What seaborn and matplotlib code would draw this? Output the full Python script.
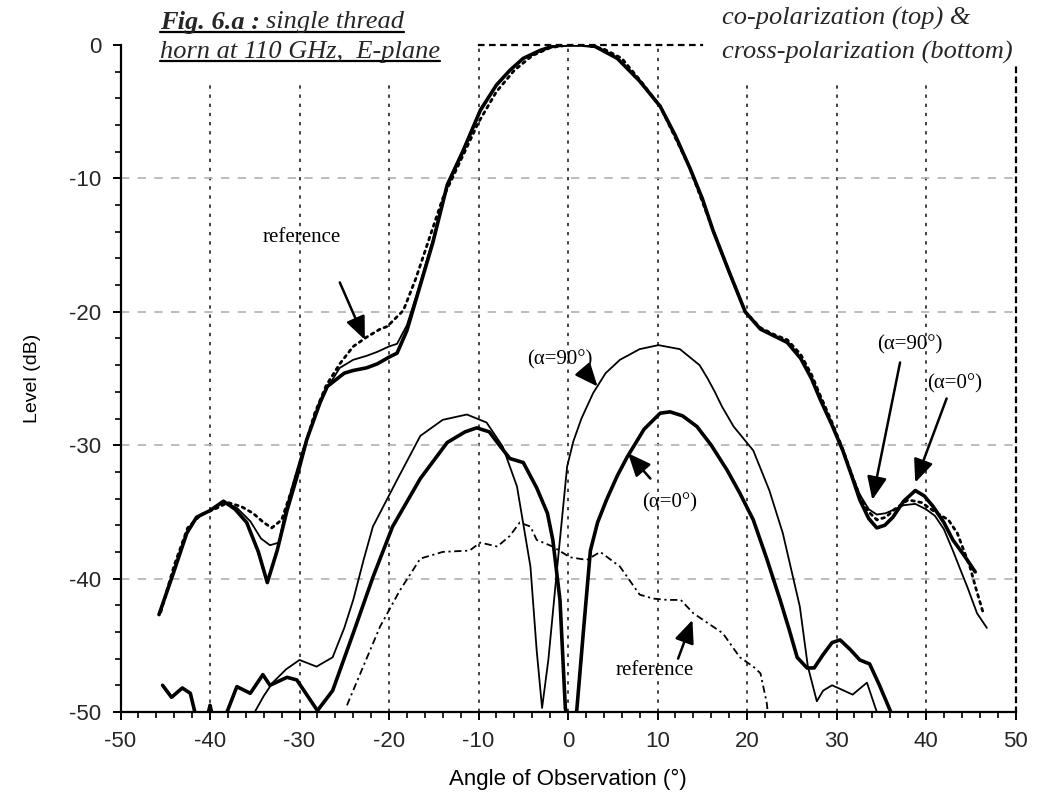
import numpy as np
import pandas as pd
import matplotlib
matplotlib.use("Agg")
import matplotlib.pyplot as plt
from matplotlib.lines import Line2D
from matplotlib.patches import Rectangle
from matplotlib.ticker import MultipleLocator
import seaborn as sns

# ---------------- data ----------------
# co-polarization, alpha = 0 deg (thick solid)
co_a0_x = [-45.7, -44.1, -42.6, -41.5, -40.0, -38.5, -37.2, -35.9, -34.6, -33.6, -32.5, -31.4, -30.3,
           -29.2, -27.7, -26.9, -25.0, -24.0, -22.5, -21.3, -20.0, -19.1, -18.0, -16.9, -15.1, -13.5,
           -11.7, -9.8, -8.0, -6.5, -5.0, -3.1, -1.5, 0.0, 1.5, 3.0, 5.5, 8.0, 10.3, 12.0, 13.6, 15.0,
           16.2, 18.0, 19.8, 21.5, 23.0, 24.5, 26.0, 27.2, 28.2, 29.5, 30.7, 31.7, 32.6, 33.6, 34.5,
           35.4, 36.3, 37.5, 38.8, 39.8, 40.8, 42.0, 43.0, 44.3, 45.5]
co_a0_y = [-42.7, -39.6, -36.6, -35.4, -34.9, -34.2, -34.8, -35.8, -38.0, -40.3, -37.9, -34.9, -32.4,
           -29.6, -26.8, -25.6, -24.6, -24.4, -24.2, -23.9, -23.4, -23.1, -21.4, -18.9, -14.8, -10.5,
           -7.9, -4.9, -3.0, -1.9, -1.0, -0.4, -0.05, 0.0, 0.0, -0.1, -1.0, -2.7, -4.6, -6.8, -9.2, -11.5,
           -13.9, -17.0, -20.0, -21.3, -21.8, -22.3, -23.5, -25.0, -26.6, -28.5, -30.4, -32.3, -34.1, -35.5, -36.2,
           -36.0, -35.4, -34.2, -33.4, -33.8, -34.6, -35.8, -37.1, -38.3, -39.5]

# co-polarization, alpha = 90 deg (thin solid)
co_a90_x = [-45.7, -44.1, -42.6, -41.5, -40.0, -38.5, -37.0, -35.5, -34.3, -33.3, -32.3, -31.6, -30.7,
            -29.6, -28.3, -27.0, -25.5, -24.0, -22.5, -21.3, -20.0, -19.1, -18.0, -16.9, -15.1, -13.5,
            -11.7, -9.8, -8.0, -6.5, -5.0, -3.1, -1.5, 0.0, 1.5, 3.0, 5.5, 8.0, 10.3, 12.0, 13.6, 15.0,
            16.2, 18.0, 19.8, 21.5, 23.0, 24.5, 26.0, 27.2, 28.2, 29.5, 30.7, 31.7, 32.6, 33.6, 34.5,
            35.5, 36.5, 37.5, 38.8, 40.0, 41.0, 42.0, 43.0, 44.0, 44.6, 45.7, 46.8]
co_a90_y = [-42.7, -39.6, -36.6, -35.4, -34.9, -34.2, -34.7, -35.7, -37.0, -37.5, -37.3, -35.0, -32.8,
            -30.3, -27.8, -25.8, -24.2, -23.6, -23.3, -23.0, -22.6, -22.4, -21.0, -18.7, -14.6, -10.4,
            -7.8, -4.8, -3.0, -1.9, -1.0, -0.4, -0.05, 0.0, 0.0, -0.1, -1.0, -2.7, -4.6, -6.8, -9.2, -11.5,
            -13.9, -17.0, -20.0, -21.3, -21.8, -22.3, -23.5, -25.0, -26.6, -28.5, -30.4, -32.2, -33.7, -34.8, -35.2,
            -35.1, -34.8, -34.5, -34.4, -34.8, -35.3, -36.3, -37.9, -39.6, -40.6, -42.6, -43.7]

# co-polarization, reference horn (dotted)
co_ref_x = [-45.5, -44.0, -42.5, -41.0, -39.5, -38.0, -36.5, -35.2, -34.0, -33.1, -32.0, -30.7, -29.5,
            -28.3, -27.0, -25.5, -24.0, -22.5, -21.0, -20.2, -18.4, -17.0, -15.5, -14.0, -12.1, -10.0,
            -8.0, -6.0, -4.0, -2.0, 0.0, 2.0, 4.0, 6.0, 8.0, 10.3, 13.6, 16.2, 18.0, 19.8, 21.5, 23.0,
            24.5, 26.0, 27.2, 28.2, 29.5, 30.7, 31.7, 32.6, 33.6, 34.5, 35.5, 36.5, 38.0, 39.5, 41.0,
            42.5, 43.5, 44.9, 45.6, 46.4]
co_ref_y = [-42.5, -39.0, -36.2, -35.2, -34.8, -34.3, -34.6, -35.1, -35.8, -36.2, -35.6, -33.0, -30.3,
            -27.6, -25.5, -23.9, -22.6, -21.9, -21.3, -21.1, -19.9, -17.5, -14.5, -11.5, -8.8, -5.8,
            -3.5, -1.9, -0.8, -0.2, 0.0, 0.0, -0.3, -1.0, -2.6, -4.6, -9.2, -13.9, -17.0, -20.0, -21.2, -21.7,
            -22.1, -23.2, -24.7, -26.3, -28.3, -30.3, -32.2, -33.8, -35.0, -35.6, -35.4, -34.8, -34.1, -34.3, -35.0,
            -35.6, -36.6, -39.1, -40.8, -42.6]

# cross-polarization, alpha = 0 deg (thick solid)
x_a0_x = [-45.3, -44.3, -43.1, -42.2, -41.7, -41.2, -40.5, -40.0, -39.5, -38.8, -38.1, -37.0, -35.5,
          -34.1, -33.3, -31.4, -30.3, -28.0, -26.3, -24.0, -21.8, -19.6, -16.5, -13.5, -11.5, -10.2,
          -8.8, -7.9, -6.5, -5.0, -3.5, -2.3, -1.7, -0.9, -0.3, 0.2, 0.6, 1.0, 1.7, 2.5, 3.3, 4.3, 5.5,
          6.6, 8.5, 10.3, 11.4, 12.8, 14.4, 16.0, 17.8, 19.2, 20.7, 22.2, 23.7, 24.7, 25.6, 26.7, 27.5,
          28.5, 29.5, 30.4, 31.5, 32.6, 33.7, 34.8, 36.0, 36.5]
x_a0_y = [-48.0, -48.9, -48.2, -48.6, -50.0, -51.5, -51.0, -49.5, -51.0, -51.5, -50.0, -48.1, -48.6,
          -47.2, -48.0, -47.4, -47.6, -49.9, -48.4, -44.1, -39.9, -36.1, -32.5, -29.8, -29.0, -28.7,
          -29.0, -29.8, -31.0, -31.3, -33.2, -35.1, -37.1, -41.6, -49.7, -52.0, -52.0, -49.7, -44.1, -37.9, -35.8, -34.1, -32.3,
          -30.9, -28.8, -27.6, -27.5, -27.8, -28.6, -30.0, -31.9, -33.6, -35.6, -38.5, -41.6, -43.8, -45.9, -46.7, -46.7,
          -45.7, -44.8, -44.6, -45.3, -46.1, -46.4, -48.0, -49.9, -51.0]

# cross-polarization, alpha = 90 deg (thin solid)
x_a90_x = [-36.0, -35.0, -34.0, -33.0, -31.5, -30.0, -28.1, -26.3, -25.0, -24.0, -22.8, -21.8, -19.1,
           -16.5, -14.0, -11.3, -9.1, -7.3, -5.7, -4.2, -3.5, -2.9, -2.2, -1.2, -0.1, 0.6, 1.5, 2.8, 4.2,
           5.8, 8.0, 10.1, 12.5, 14.7, 15.6, 16.4, 17.2, 18.5, 20.7, 22.5, 24.0, 25.9, 26.8, 27.8, 28.5, 29.5,
           30.5, 31.8, 33.4, 34.5, 35.0]
x_a90_y = [-52.0, -50.0, -48.8, -47.8, -46.8, -46.1, -46.6, -45.9, -43.7, -41.6, -38.5, -36.1, -32.6,
           -29.3, -28.1, -27.7, -28.3, -30.1, -33.1, -39.1, -45.4, -49.7, -46.1, -39.1, -31.6, -29.7, -28.0, -26.1, -24.6,
           -23.6, -22.8, -22.5, -22.8, -24.0, -25.0, -26.0, -27.1, -28.6, -30.4, -33.4, -36.6, -42.1, -46.6, -49.2, -48.4, -48.0,
           -48.3, -48.7, -47.8, -50.0, -51.0]

# cross-polarization, reference horn (dash-dot)
x_ref_x = [-24.7, -23.2, -21.0, -18.8, -16.5, -14.0, -11.0, -9.8, -7.9, -6.5, -5.4, -4.2, -3.5, -1.7,
           0.2, 2.1, 3.6, 5.8, 8.0, 9.5, 11.1, 12.6, 14.0, 16.2, 17.3, 19.2, 20.7, 21.5, 22.2, 22.4]
x_ref_y = [-49.5, -47.1, -43.6, -40.9, -38.5, -38.0, -37.9, -37.3, -37.6, -36.8, -35.8, -36.1, -37.1, -37.6,
           -38.4, -38.6, -38.0, -39.1, -41.2, -41.5, -41.6, -41.6, -42.6, -43.6, -44.1, -45.9, -46.6, -47.1, -49.3, -50.5]

x_ticks = [-50, -40, -30, -20, -10, 0, 10, 20, 30, 40, 50]
y_ticks = [-50, -40, -30, -20, -10, 0]

# ---------------- style ----------------
sns.set_theme(style="ticks")
plt.rcParams['font.family'] = ['Liberation Sans', 'DejaVu Sans']
plt.rcParams['axes.linewidth'] = 1.5
plt.rcParams['axes.unicode_minus'] = False

fig = plt.figure(figsize=(10.39, 7.98), dpi=100)
ax = fig.add_axes([0.116, 0.1078, 0.8614, 0.8358])

def draw(x, y, **kw):
    sns.lineplot(x=x, y=y, ax=ax, sort=False, estimator=None, color='black', **kw)

draw(co_ref_x, co_ref_y, linewidth=2.0, linestyle=(0, (1, 1.6)), dash_capstyle='round')
draw(co_a90_x, co_a90_y, linewidth=1.3)
draw(co_a0_x, co_a0_y, linewidth=2.6)
draw(x_ref_x, x_ref_y, linewidth=1.3, linestyle=(0, (4, 2, 1.2, 2)))
draw(x_a90_x, x_a90_y, linewidth=1.3)
draw(x_a0_x, x_a0_y, linewidth=2.6)

ax.set_xlim(-50, 50)
ax.set_ylim(-50, 0)
ax.set_xticks(x_ticks)
ax.set_yticks(y_ticks)
ax.xaxis.set_minor_locator(MultipleLocator(2))
ax.yaxis.set_minor_locator(MultipleLocator(2))
ax.tick_params(which='major', direction='out', length=6, width=1.4, labelsize=16, pad=8, color='black')
ax.tick_params(which='minor', direction='out', length=4, width=1.2, color='black')

ax.set_axisbelow(True)
ax.xaxis.grid(True, which='major', color='#222222', linestyle=(0, (2, 3.5)), linewidth=1.2)
ax.yaxis.grid(True, which='major', color='#b0b0b0', linestyle=(0, (5, 5)), linewidth=1.2)
for gl, v in zip(ax.xaxis.get_gridlines(), x_ticks):
    if v in (-50, 50):
        gl.set_visible(False)
for gl, v in zip(ax.yaxis.get_gridlines(), y_ticks):
    if v in (-50, 0):
        gl.set_visible(False)

for s in ('left', 'bottom'):
    ax.spines[s].set_color('black')
    ax.spines[s].set_linewidth(1.6)
ax.spines['top'].set_bounds(-10, 15)
ax.spines['top'].set_linestyle((0, (2, 3)))
ax.spines['top'].set_linewidth(1.6)
ax.spines['top'].set_color('black')
ax.spines['right'].set_bounds(-50, -1.5)
ax.spines['right'].set_linestyle((0, (2, 2.5)))
ax.spines['right'].set_linewidth(1.6)
ax.spines['right'].set_color('black')

# white boxes behind the header texts hide the tops of the grid lines
ax.add_patch(Rectangle((0.03, 0.94), 0.345, 0.07, transform=ax.transAxes, facecolor='white',
                       edgecolor='none', zorder=1, clip_on=False))
ax.add_patch(Rectangle((0.664, 0.94), 0.33, 0.07, transform=ax.transAxes, facecolor='white',
                       edgecolor='none', zorder=1, clip_on=False))

ax.set_xlabel('Angle of Observation (°)', fontsize=16, labelpad=12, color='black')
ax.set_ylabel('Level (dB)', fontsize=14, labelpad=20, color='black')

# annotations
serif = ['Liberation Serif', 'DejaVu Serif']
arrow = dict(arrowstyle='-|>,head_length=0.7,head_width=0.3', color='black', lw=1.8,
             shrinkA=0, shrinkB=0, mutation_scale=20)
ann = [
    ('reference', (-29.8, -14.4), (-25.5, -17.8), (-22.7, -22.1)),
    ('(α=90°)', (-0.9, -23.6), (1.9, -24.5), (3.3, -25.6)),
    ('(α=0°)', (11.4, -34.3), (9.2, -32.5), (6.7, -30.6)),
    ('reference', (9.7, -46.9), (12.3, -46.0), (13.9, -43.1)),
    ('(α=90°)', (38.2, -22.5), (37.1, -23.8), (34.0, -34.1)),
    ('(α=0°)', (43.2, -25.4), (42.3, -26.5), (38.8, -32.8)),
]
for label, tpos, tail, head in ann:
    ax.text(tpos[0], tpos[1], label, ha='center', va='center', fontsize=15, family=serif, color='black')
    ax.annotate('', xy=head, xytext=tail, arrowprops=arrow)

# header texts
t1a = fig.text(160 / 1039, 1 - 22 / 798, 'Fig. 6.a :', fontsize=19, family=serif, style='italic',
               weight='bold', va='center', ha='left')
fig.canvas.draw()
r = fig.canvas.get_renderer()
bb = t1a.get_window_extent(r)
t1b = fig.text((bb.x1 + 6) / 1039, 1 - 22 / 798, 'single thread', fontsize=19, family=serif,
               style='italic', va='center', ha='left')
t2 = fig.text(160 / 1039, 1 - 52 / 798, 'horn at 110 GHz,  E-plane', fontsize=19, family=serif,
              style='italic', va='center', ha='left')
fig.text(722 / 1039, 1 - 18 / 798, 'co-polarization (top) &', fontsize=19, family=serif,
         style='italic', va='center', ha='left')
fig.text(722 / 1039, 1 - 52 / 798, 'cross-polarization (bottom)', fontsize=19, family=serif,
         style='italic', va='center', ha='left')
fig.canvas.draw()
b1 = t1b.get_window_extent(r)
b2 = t2.get_window_extent(r)
for x0, x1, yb in ((bb.x0, b1.x1, min(bb.y0, b1.y0)), (b2.x0, b2.x1, b2.y0)):
    fig.add_artist(Line2D([x0 / 1039, x1 / 1039], [(yb + 2) / 798, (yb + 2) / 798],
                          transform=fig.transFigure, color='black', lw=1.6))

fig.savefig('out.png', dpi=100, facecolor='white')
